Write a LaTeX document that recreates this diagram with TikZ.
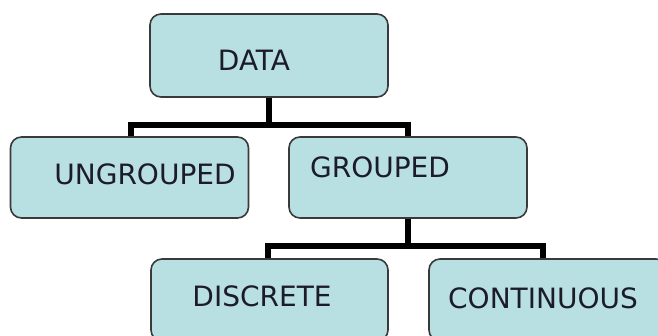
\documentclass[tikz,border=0pt]{standalone}
\usepackage{fontspec}
\setmainfont{DejaVu Sans}
\usetikzlibrary{calc}
\definecolor{boxfill}{HTML}{B8DFE2}
\definecolor{boxline}{HTML}{3A3A3A}
\definecolor{txt}{HTML}{1C1C28}
\tikzset{
  databox/.style={draw=boxline, line width=1.6pt, fill=boxfill, rounded corners=11pt,
    minimum width=238pt, minimum height=83pt, inner sep=0pt},
  lbl/.style={text=txt, font=\fontsize{28}{30}\selectfont, inner sep=0pt, anchor=center},
  conn/.style={line width=6pt, black}
}
\begin{document}
\begin{tikzpicture}[x=1pt,y=1pt]
\useasboundingbox (0,0) rectangle (658,-335);
\clip (0,0) rectangle (658,-335);
% boxes
\node[databox] (data) at (269,-55.5) {};
\node[databox, minimum width=238pt, minimum height=81pt] (ungrouped) at (129.5,-177.5) {};
\node[databox, minimum width=238pt, minimum height=81pt] (grouped) at (408,-177.5) {};
\node[databox, minimum width=237pt, minimum height=82pt] (discrete) at (269.5,-300) {};
\node[databox, minimum width=238pt, minimum height=82pt] (continuous) at (548,-300) {};
% labels
\node[lbl] (tdata) at (254,-60) {DATA};
\node[lbl] (tungrouped) at (145,-174) {UNGROUPED};
\node[lbl] (tgrouped) at (380,-167) {GROUPED};
\node[lbl] (tdiscrete) at (262,-296) {DISCRETE};
\node[lbl] (tcontinuous) at (543,-298) {CONTINUOUS};
% connectors
\coordinate (bar1) at ($(data.south)+(0,-27)$);
\draw[conn] (data.south) -- (bar1);
\draw[conn] ($(ungrouped.north)+(1.5,0)$) |- (bar1) -| (grouped.north);
\coordinate (bar2) at ($(grouped.south)+(0,-27)$);
\draw[conn] (grouped.south) -- (bar2);
\draw[conn] ($(discrete.north)+(-1.5,0)$) |- (bar2) -| ($(continuous.north)+(-5,0)$);
\end{tikzpicture}
\end{document}
